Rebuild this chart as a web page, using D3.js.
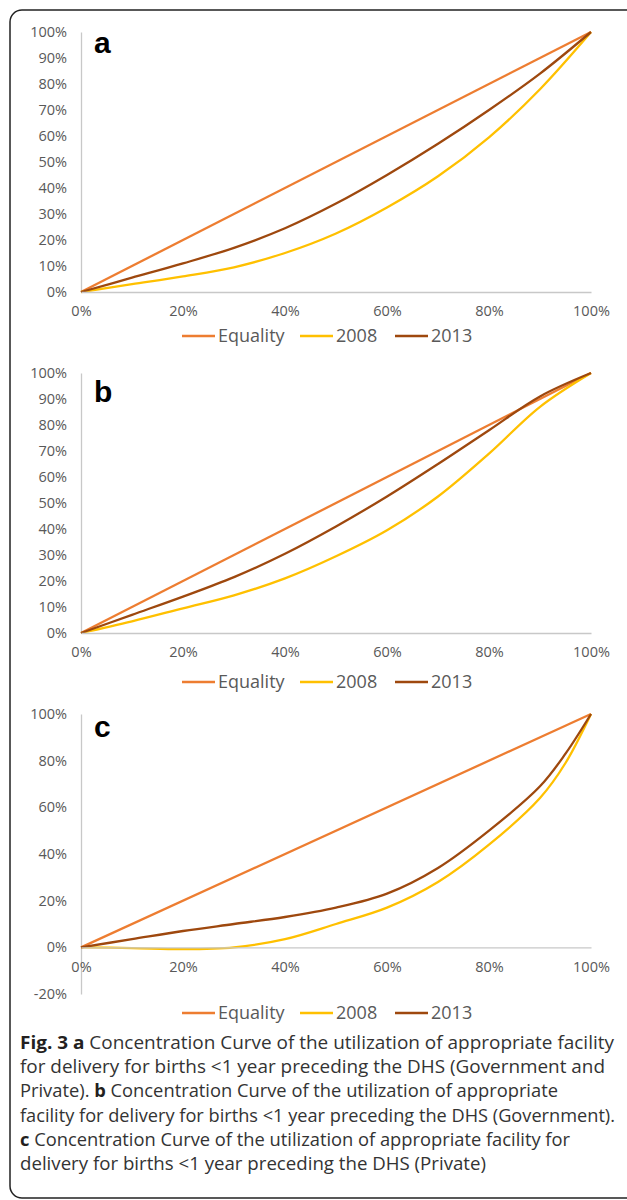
<!DOCTYPE html>
<html>
<head>
<meta charset="utf-8">
<script src="https://cdn.jsdelivr.net/npm/d3@7"></script>
<style>
  html, body { margin: 0; padding: 0; background: #fff; }
  svg { display: block; }
</style>
</head>
<body>
<svg id="chart" width="627" height="1200"></svg>
<script>
// ---------- DATA ----------
const seriesNames = ["Equality", "2008", "2013"];
const xTicks = [0, 20, 40, 60, 80, 100];
const yTicksAB = [0, 10, 20, 30, 40, 50, 60, 70, 80, 90, 100];
const yTicksC = [-20, 0, 20, 40, 60, 80, 100];

const equalityX = [0, 100];
const equalityY = [0, 100];

// Panel a: Government and Private
const xA = [0, 10, 20, 30, 40, 50, 60, 70, 80, 90, 100];
const a2008 = [0, 3, 6, 9.5, 15, 22.5, 32.5, 44.5, 59.5, 78, 100];
const a2013 = [0, 5.5, 11, 17, 24.5, 34, 45, 57, 70, 84, 100];

// Panel b: Government
const xB = [0, 10, 20, 30, 40, 50, 60, 70, 80, 90, 100];
const b2008 = [0, 4.5, 9.5, 14.5, 21, 29.5, 39.5, 52.5, 69, 87, 100];
const b2013 = [0, 7, 14, 21.5, 30.5, 41, 52.5, 65, 78, 91, 100];

// Panel c: Private
const xC = [0, 10, 20, 30, 40, 50, 60, 70, 80, 90, 95, 100];
const c2008 = [0, -0.3, -0.8, 0, 3.5, 10, 17, 28, 44, 64, 79, 100];
const c2013 = [0, 3.5, 7, 10, 13, 17, 23, 34, 50, 69, 83, 100];

const captionLines = [
  [["Fig. 3 a", true], [" Concentration Curve of the utilization of appropriate facility", false]],
  [["for delivery for births <1 year preceding the DHS (Government and", false]],
  [["Private). ", false], ["b", true], [" Concentration Curve of the utilization of appropriate", false]],
  [["facility for delivery for births <1 year preceding the DHS (Government).", false]],
  [["c", true], [" Concentration Curve of the utilization of appropriate facility for", false]],
  [["delivery for births <1 year preceding the DHS (Private)", false]]
];
const captionWidths = [594, 585, 538, 595, 550, 466];

// ---------- STYLE ----------
const colors = { "Equality": "#ED7D31", "2008": "#FFC000", "2013": "#9E480E" };
const axisColor = "#c8c8c8";
const textColor = "#595959";

const svg = d3.select("#chart");

// border
svg.append("rect")
  .attr("x", 10).attr("y", 10)
  .attr("width", 640).attr("height", 1188)
  .attr("rx", 12).attr("ry", 12)
  .attr("fill", "none").attr("stroke", "#222").attr("stroke-width", 1.5);

function panel(cfg) {
  const x = d3.scaleLinear().domain([0, 100]).range([81, 591]);
  const y = d3.scaleLinear().domain(cfg.yDomain).range(cfg.yRange);
  const g = svg.append("g");

  // y axis
  const ya = g.append("g").attr("transform", "translate(81,0)")
    .call(d3.axisLeft(y).tickValues(cfg.yTicks).tickSize(0).tickPadding(14).tickFormat(d => d + "%"));
  ya.select(".domain").attr("stroke", axisColor).attr("stroke-width", 1.3);
  ya.attr("font-size", null).attr("font-family", null);
  ya.selectAll("text").attr("fill", textColor)
    .style("font-family", "'Open Sans', sans-serif").style("font-size", "14.5px");

  // x axis at 0
  const xa = g.append("g").attr("transform", `translate(0,${y(0)})`)
    .call(d3.axisBottom(x).tickValues(xTicks).tickSize(0).tickPadding(14).tickFormat(d => d + "%"));
  xa.select(".domain").attr("stroke", axisColor).attr("stroke-width", 1.3);
  xa.attr("font-size", null).attr("font-family", null);
  xa.selectAll("text").attr("fill", textColor)
    .style("font-family", "'Open Sans', sans-serif").style("font-size", "14.5px");

  const line = d3.line().x(d => x(d[0])).y(d => y(d[1])).curve(d3.curveCatmullRom.alpha(0.5));
  const series = [
    { name: "Equality", pts: d3.zip(equalityX, equalityY) },
    { name: "2008", pts: d3.zip(cfg.xs, cfg.s2008) },
    { name: "2013", pts: d3.zip(cfg.xs, cfg.s2013) }
  ];
  g.selectAll("path.series").data(series).join("path")
    .attr("class", "series")
    .attr("d", d => line(d.pts))
    .attr("fill", "none")
    .attr("stroke", d => colors[d.name])
    .attr("stroke-width", 2.3)
    .attr("stroke-linejoin", "round");

  xa.raise();

  // panel letter
  g.append("text")
    .attr("x", 94).attr("y", cfg.letterY)
    .text(cfg.letter)
    .attr("fill", "#000")
    .style("font-family", "'Liberation Sans', Arial, sans-serif")
    .style("font-weight", "bold").style("font-size", "30px");

  // legend
  const legendX = [182, 300, 395];
  const lg = g.append("g");
  seriesNames.forEach((n, i) => {
    lg.append("line")
      .attr("x1", legendX[i]).attr("x2", legendX[i] + 33)
      .attr("y1", cfg.legendY).attr("y2", cfg.legendY)
      .attr("stroke", colors[n]).attr("stroke-width", 2.3);
    lg.append("text")
      .attr("x", legendX[i] + 36).attr("y", cfg.legendY).attr("dy", "0.36em")
      .text(n).attr("fill", textColor)
      .style("font-family", "'Open Sans', sans-serif").style("font-size", "18px");
  });
}

panel({ yDomain: [0, 100], yRange: [292, 32], yTicks: yTicksAB, xs: xA, s2008: a2008, s2013: a2013, letter: "a", letterY: 53, legendY: 336 });
panel({ yDomain: [0, 100], yRange: [633, 373], yTicks: yTicksAB, xs: xB, s2008: b2008, s2013: b2013, letter: "b", letterY: 402, legendY: 682 });
panel({ yDomain: [-20, 100], yRange: [994, 714], yTicks: yTicksC, xs: xC, s2008: c2008, s2013: c2013, letter: "c", letterY: 737, legendY: 1013 });

// caption
const cap = svg.append("g");
captionLines.forEach((parts, i) => {
  const t = cap.append("text")
    .attr("x", 20).attr("y", 1049 + i * 24.2)
    .attr("textLength", captionWidths[i])
    .attr("lengthAdjust", "spacingAndGlyphs")
    .attr("fill", "#231f20")
    .style("font-family", "'Open Sans', sans-serif").style("font-size", "17.5px");
  parts.forEach(([s, b]) => {
    t.append("tspan").text(s).style("font-weight", b ? "bold" : "normal")
      .attr("fill", b ? "#231f20" : "#333");
  });
});
</script>
</body>
</html>
